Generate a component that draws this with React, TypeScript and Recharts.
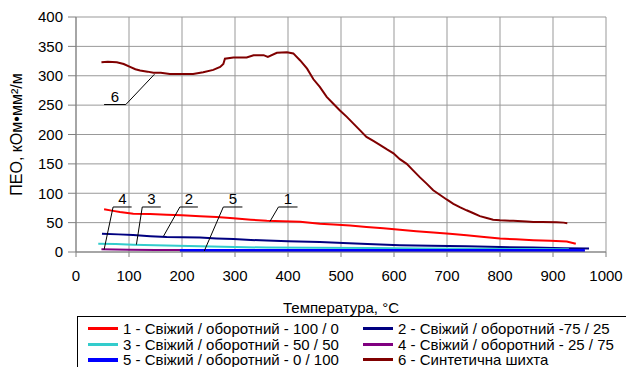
import React from "react";
import {
  LineChart,
  Line,
  XAxis,
  YAxis,
  CartesianGrid,
  ReferenceLine,
} from "recharts";

// temperatures (°C) and ПЕО values, per series
const t1 = [53, 70, 83, 108, 140, 171, 200, 234, 265, 297, 330, 360, 390, 423, 460, 486, 517, 548, 580, 611, 642, 674, 705, 737, 770, 800, 830, 863, 895, 926, 943];
const v1 = [72.7, 70, 68, 65, 64.5, 63.6, 62.5, 61, 59.5, 57.4, 55, 53, 52.5, 51.5, 48, 47, 45, 42.6, 40.5, 38, 35.5, 33, 31, 28.4, 25.5, 22.8, 21.5, 20, 19, 18, 14];

const t2 = [49, 80, 108, 140, 171, 200, 234, 265, 297, 330, 360, 400, 460, 504, 550, 611, 670, 737, 800, 863, 920, 968];
const v2 = [31, 30, 29, 27, 25.6, 25, 24.5, 23, 22, 20.5, 19.4, 18.5, 17, 15.3, 13.5, 11.4, 10.5, 9.7, 8.5, 7.5, 6.5, 5.8];

const t3 = [42, 75, 108, 170, 234, 300, 360, 450, 555, 650, 750, 850, 930];
const v3 = [14.2, 13.5, 12.5, 11, 9.7, 8.5, 7.5, 7.2, 7, 6, 5.5, 5, 4.5];

const t4 = [48, 100, 150, 200, 300, 500, 700, 850, 960];
const v4 = [4.6, 4, 3.5, 3.2, 3, 2.8, 2.5, 2.2, 2];

const t5 = [196, 300, 400, 500, 600, 700, 800, 900, 960];
const v5 = [2.4, 2.4, 2.5, 2.5, 2.5, 2.6, 2.6, 2.5, 2.5];

const t6 = [48, 60, 77, 90, 102, 112, 121, 135, 146, 160, 177, 200, 221, 240, 259, 272, 278, 281, 297, 322, 335, 354, 362, 379, 398, 410, 423, 436, 448, 460, 473, 486, 498, 511, 523, 536, 548, 561, 574, 586, 599, 611, 624, 636, 649, 662, 674, 687, 700, 712, 725, 737, 750, 762, 775, 787, 800, 825, 850, 863, 880, 907, 920, 927];
const v6 = [323, 324, 323, 320, 315, 311, 309, 307, 305, 305, 303, 303, 303, 306, 310, 315, 320, 329, 331, 331, 335, 335, 332, 339, 340, 338, 326, 312, 294, 281, 264, 252, 241, 230, 219, 207, 196, 189, 182, 175, 168, 158, 150, 139, 127, 116, 105, 97, 89, 82, 76, 71, 66, 61, 58, 55, 54, 53, 52, 51, 51, 50.5, 50, 49];

const xTicks = [0, 100, 200, 300, 400, 500, 600, 700, 800, 900, 1000];
const yTicks = [0, 50, 100, 150, 200, 250, 300, 350, 400];

const names = [
  "1 - Свіжий / оборотний - 100 / 0",
  "2 - Свіжий / оборотний -75 / 25",
  "3 - Свіжий / оборотний - 50 / 50",
  "4 - Свіжий / оборотний - 25 / 75",
  "5 - Свіжий / оборотний - 0 / 100",
  "6 - Синтетична шихта",
];
const colors = ["#ff0000", "#000080", "#33cccc", "#800080", "#0000ff", "#800000"];
const widths = [2, 2, 2, 2, 3, 2];

// callouts: label over a short horizontal line, then a slanted leader down to the curve
const calloutLabels = ["4", "3", "2", "5", "1", "6"];
const calloutX1 = [70, 125, 196, 278, 382, 53];
const calloutX2 = [105, 160, 230, 314, 418, 94];
const calloutLevel = [76.6, 76.6, 76.6, 76.6, 76.6, 251];
const calloutPtX = [53, 114, 165, 242, 366, 148];
const calloutPtY = [4, 12.6, 26.7, 1.7, 52, 302.5];

const zip = (t: number[], v: number[]) => t.map((x, i) => ({ t: x, v: v[i] }));
const series = [zip(t1, v1), zip(t2, v2), zip(t3, v3), zip(t4, v4), zip(t5, v5), zip(t6, v6)];

const font = "'Liberation Sans', Arial, sans-serif";

const App = () => {
  return (
    <div style={{ position: "absolute", left: 0, top: 0, width: 626, height: 367, overflow: "hidden", background: "#fff", fontFamily: font }}>
      <LineChart width={626} height={367} margin={{ top: 17, right: 20, left: 0, bottom: 75 }}>
        <CartesianGrid stroke="#999" strokeWidth={1} />
        <XAxis
          dataKey="t"
          type="number"
          domain={[0, 1000]}
          ticks={xTicks}
          height={40}
          tickSize={5}
          tickMargin={13}
          stroke="#808080"
          tick={{ fill: "#000", fontSize: 15, fontFamily: font }}
          allowDuplicatedCategory={false}
          label={{ value: "Температура, °C", position: "bottom", offset: 10, fill: "#000", fontSize: 15, fontFamily: font }}
        />
        <YAxis
          type="number"
          domain={[0, 400]}
          ticks={yTicks}
          width={76}
          tickSize={8}
          tickMargin={5}
          stroke="#808080"
          tick={{ fill: "#000", fontSize: 15, fontFamily: font }}
          label={{ value: "ПЕО, кОм•мм²/м", angle: -90, position: "insideLeft", offset: 16, fill: "#000", fontSize: 16, fontFamily: font, style: { textAnchor: "middle" } }}
        />
        {series.map((d, i) => (
          <Line
            key={names[i]}
            data={d}
            dataKey="v"
            name={names[i]}
            stroke={colors[i]}
            strokeWidth={widths[i]}
            dot={false}
            activeDot={false}
            type="linear"
            isAnimationActive={false}
          />
        ))}
        {calloutLabels.map((lab, i) => (
          <ReferenceLine
            key={"h" + lab}
            segment={[{ x: calloutX1[i], y: calloutLevel[i] }, { x: calloutX2[i], y: calloutLevel[i] }]}
            stroke="#000"
            strokeWidth={1}
            label={{ value: lab, position: "top", offset: 3, fill: "#000", fontSize: 15, fontFamily: font }}
          />
        ))}
        {calloutLabels.map((lab, i) => (
          <ReferenceLine
            key={"d" + lab}
            segment={[{ x: i === 5 ? calloutX2[i] : calloutX1[i], y: calloutLevel[i] }, { x: calloutPtX[i], y: calloutPtY[i] }]}
            stroke="#000"
            strokeWidth={1}
          />
        ))}
      </LineChart>
      <div
        style={{
          position: "absolute",
          left: 77,
          top: 316,
          width: 600,
          height: 60,
          border: "1px solid #000",
          boxSizing: "border-box",
          fontSize: 15,
          lineHeight: "15px",
          color: "#000",
        }}
      >
        {names.map((name, i) => {
          const col = i % 2;
          const row = Math.floor(i / 2);
          return (
            <div key={name} style={{ position: "absolute", left: col === 0 ? 10 : 285, top: 4 + row * 15.5, display: "flex", alignItems: "center", whiteSpace: "nowrap" }}>
              <span style={{ display: "inline-block", width: 30, height: 0, borderTop: `${widths[i] + 1}px solid ${colors[i]}`, marginRight: 5 }} />
              <span>{name}</span>
            </div>
          );
        })}
      </div>
    </div>
  );
};

export default App;
